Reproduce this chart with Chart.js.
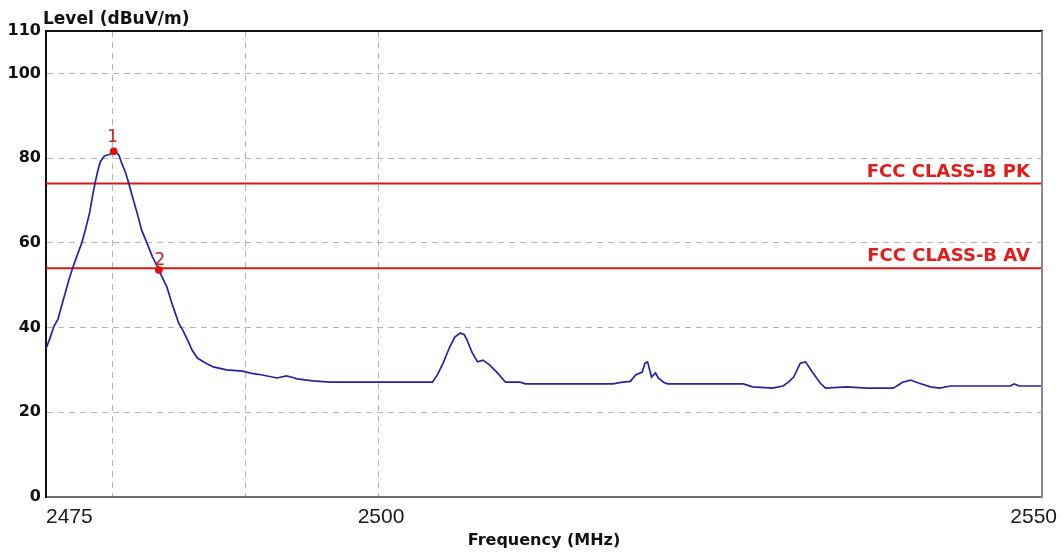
<!DOCTYPE html>
<html>
<head>
<meta charset="utf-8">
<script src="https://cdn.jsdelivr.net/npm/chart.js@4/dist/chart.umd.min.js"></script>
<style>
  html, body { margin: 0; padding: 0; background: #ffffff; }
  #wrap { width: 1062px; height: 554px; position: relative; }
</style>
</head>
<body>
<div id="wrap"><canvas id="c" width="1062" height="554"></canvas></div>
<script>
// Measured spectrum (MHz, dBuV/m)
const freqMHz = [
  2475.0, 2475.3, 2475.6, 2475.9, 2476.3, 2476.7, 2477.0, 2477.4, 2477.7, 2478.0,
  2478.3, 2478.5, 2478.7, 2478.9, 2479.1, 2479.4, 2479.7, 2480.0, 2480.2, 2480.5,
  2480.7, 2481.0, 2481.2, 2481.5, 2481.9, 2482.2, 2482.6, 2483.0, 2483.4, 2483.7,
  2484.1, 2484.4, 2484.7, 2485.0, 2485.3, 2485.7, 2486.0, 2486.4, 2486.9, 2487.6,
  2488.6, 2489.8, 2490.5, 2491.3, 2492.4, 2493.1, 2493.6, 2493.9, 2495.1, 2496.4,
  2500.0, 2504.1, 2504.5, 2504.9, 2505.4, 2505.8, 2506.2, 2506.5, 2506.7, 2507.1,
  2507.5, 2507.9, 2508.4, 2509.0, 2509.6, 2510.7, 2511.1, 2517.7, 2518.4, 2519.0,
  2519.4, 2519.9, 2520.1, 2520.3, 2520.5, 2520.6, 2520.9, 2521.1, 2521.5, 2521.8,
  2527.5, 2528.2, 2529.7, 2530.5, 2530.9, 2531.3, 2531.8, 2532.2, 2532.7, 2533.3,
  2533.7, 2535.3, 2536.8, 2538.8, 2539.5, 2540.1, 2540.7, 2541.6, 2542.3, 2543.1,
  2547.6, 2547.9, 2548.3, 2550.0
];
const levelDb = [
  35.0, 37.5, 40.3, 42.0, 46.5, 51.0, 54.0, 57.5, 60.0, 63.5,
  67.3, 71.0, 74.2, 77.0, 79.2, 80.5, 80.8, 81.2, 81.7, 80.6,
  78.8, 76.5, 74.4, 71.0, 66.6, 63.0, 60.0, 56.8, 54.3, 52.2,
  49.6, 46.5, 43.7, 41.0, 39.4, 36.8, 34.7, 32.8, 31.8, 30.7,
  30.0, 29.7, 29.2, 28.8, 28.1, 28.6, 28.2, 27.9, 27.4, 27.1,
  27.1, 27.1, 29.0, 31.6, 35.4, 37.8, 38.7, 38.3, 37.1, 34.0,
  31.9, 32.3, 31.2, 29.3, 27.1, 27.1, 26.7, 26.7, 27.1, 27.3,
  28.8, 29.5, 31.6, 31.9, 29.5, 28.3, 29.3, 28.1, 27.1, 26.7,
  26.7, 26.0, 25.7, 26.2, 27.1, 28.3, 31.6, 31.9, 29.5, 26.9,
  25.7, 26.0, 25.7, 25.7, 27.1, 27.6, 26.9, 26.0, 25.7, 26.2,
  26.2, 26.7, 26.2, 26.2
];

// Limit lines
const limitNames = ['FCC CLASS-B PK', 'FCC CLASS-B AV'];
const limitLevels = [74, 54];

// Markers
const markerNames = ['1', '2'];
const markerFreq = [2480.1, 2483.5];
const markerLevel = [81.6, 53.6];

// Axis ticks and grid
const xTickLabels = [2475, 2500, 2550];
const xGridValues = [2480, 2490, 2500];
const yTickValues = [0, 20, 40, 60, 80, 100, 110];
const yGridValues = [20, 40, 60, 80, 100];

const xMin = 2475, xMax = 2550, yMin = 0, yMax = 110;

const spectrum = freqMHz.map((f, i) => ({ x: f, y: levelDb[i] }));
const limitSets = limitLevels.map((lv, i) => ({
  label: limitNames[i],
  data: [{ x: xMin, y: lv }, { x: xMax, y: lv }],
  borderColor: '#d81818',
  borderWidth: 2,
  pointRadius: 0,
  fill: false,
  order: 2
}));

const GRID = '#b4b4b4';
const RED = '#e01c1c';

const decorations = {
  id: 'decorations',
  afterDatasetsDraw(chart) {
    const { ctx, chartArea: a, scales: { x, y } } = chart;
    ctx.save();

    // limit names above each limit line
    ctx.font = 'bold 18px "DejaVu Sans"';
    ctx.fillStyle = RED;
    ctx.textAlign = 'right';
    ctx.textBaseline = 'alphabetic';
    limitLevels.forEach((lv, i) => {
      ctx.fillText(limitNames[i], a.right - 12, y.getPixelForValue(lv) - 7);
    });

    // marker numbers
    ctx.font = '17px "DejaVu Sans"';
    ctx.fillStyle = '#cc1f1f';
    ctx.textAlign = 'center';
    ctx.textBaseline = 'bottom';
    markerNames.forEach((n, i) => {
      const px = x.getPixelForValue(markerFreq[i]);
      const py = y.getPixelForValue(markerLevel[i]);
      ctx.fillText(n, px + (i === 1 ? 1 : -1), py - (i === 0 ? 5 : 1));
    });

    // x tick labels
    ctx.font = '21px "Liberation Sans"';
    ctx.fillStyle = '#1a1a1a';
    ctx.textBaseline = 'middle';
    xTickLabels.forEach((v, i) => {
      const px = x.getPixelForValue(v);
      if (i === 0) { ctx.textAlign = 'left'; ctx.fillText(String(v), px, 517); }
      else if (i === xTickLabels.length - 1) { ctx.textAlign = 'right'; ctx.fillText(String(v), px + 15, 517); }
      else { ctx.textAlign = 'center'; ctx.fillText(String(v), px + 3, 517); }
    });

    // y axis title
    ctx.font = 'bold 17px "DejaVu Sans"';
    ctx.fillStyle = '#111111';
    ctx.textAlign = 'left';
    ctx.textBaseline = 'alphabetic';
    ctx.fillText('Level (dBuV/m)', 43, 24);

    // frame: dark top edge, grey right edge
    ctx.lineWidth = 2;
    ctx.strokeStyle = '#111111';
    ctx.beginPath();
    ctx.moveTo(a.left - 1, a.top);
    ctx.lineTo(a.right + 1, a.top);
    ctx.stroke();
    ctx.strokeStyle = '#8a8a8a';
    ctx.beginPath();
    ctx.moveTo(a.right, a.top);
    ctx.lineTo(a.right, a.bottom + 1);
    ctx.stroke();
    ctx.restore();
  }
};

new Chart(document.getElementById('c'), {
  type: 'line',
  data: {
    datasets: [
      {
        label: 'Level',
        data: spectrum,
        borderColor: '#2323a8',
        borderWidth: 1.7,
        pointRadius: 0,
        tension: 0,
        fill: false,
        order: 1
      },
      ...limitSets,
      {
        label: 'Markers',
        data: markerFreq.map((f, i) => ({ x: f, y: markerLevel[i] })),
        showLine: false,
        pointRadius: 3.5,
        pointBackgroundColor: '#e01010',
        pointBorderColor: '#e01010',
        order: 0
      }
    ]
  },
  options: {
    responsive: false,
    animation: false,
    events: [],
    layout: { padding: { top: 31, right: 20, left: 0, bottom: 0 } },
    plugins: { legend: { display: false }, tooltip: { enabled: false }, title: { display: false } },
    scales: {
      x: {
        type: 'linear',
        min: xMin,
        max: xMax,
        afterBuildTicks: (s) => { s.ticks = [xMin, ...xGridValues, xMax].map(v => ({ value: v })); },
        afterFit: (s) => { s.height = 57; },
        ticks: { display: false },
        grid: {
          drawTicks: false,
          lineWidth: 1,
          color: (c) => xGridValues.includes(c.tick && c.tick.value) ? GRID : 'rgba(0,0,0,0)'
        },
        border: { display: true, color: '#6e6e6e', width: 2, dash: [6, 5] },
        title: {
          display: true,
          text: 'Frequency (MHz)',
          color: '#111111',
          font: { family: '"DejaVu Sans"', size: 16, weight: 'bold' },
          padding: { top: 0, bottom: 4 }
        }
      },
      y: {
        type: 'linear',
        min: yMin,
        max: yMax,
        afterBuildTicks: (s) => { s.ticks = yTickValues.map(v => ({ value: v })); },
        afterFit: (s) => { s.width = 46; },
        ticks: {
          padding: 5,
          color: '#111111',
          font: { family: '"DejaVu Sans"', size: 16, weight: 'bold' }
        },
        grid: {
          drawTicks: false,
          lineWidth: 1,
          color: (c) => yGridValues.includes(c.tick && c.tick.value) ? GRID : 'rgba(0,0,0,0)'
        },
        border: { display: true, color: '#111111', width: 2, dash: [6, 5] }
      }
    }
  },
  plugins: [decorations]
});
</script>
</body>
</html>
